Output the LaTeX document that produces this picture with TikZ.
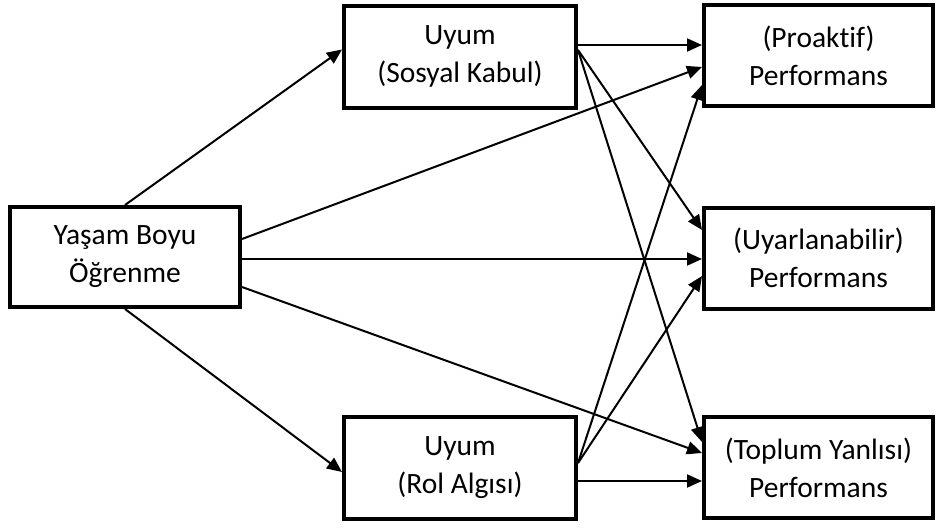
\documentclass[tikz,border=0pt]{standalone}
\usepackage{fontspec}
\setmainfont{Carlito}[Ligatures=NoCommon]
\usetikzlibrary{arrows.meta}
\begin{document}
\begin{tikzpicture}[x=1pt,y=-1pt,
  box/.style={draw=black, line width=4pt, fill=white, align=center,
    inner sep=0pt, font=\fontsize{29.5}{38}\selectfont},
  leftbox/.style={box, minimum width=230pt, minimum height=100pt},
  midbox/.style={box, minimum width=232pt, minimum height=102pt},
  rightbox/.style={box, minimum width=229pt, minimum height=101pt},
  link/.style={draw=black, line width=2pt, -{Triangle[length=15pt,width=13pt]}}]
\fill[white] (0,0) rectangle (936,530);
\useasboundingbox (0,0) rectangle (936,530);

% boxes
\node[leftbox]  (L)  at (125,257)   {Yaşam Boyu\\Öğrenme};
\node[midbox]   (TM) at (460,56.5)  {Uyum\\(Sosyal Kabul)};
\node[midbox]   (BM) at (460,467.5) {Uyum\\(Rol Algısı)};
\node[rightbox] (RT) at (818.5,55.5)  {(Proaktif)\\Performans};
\node[rightbox] (RM) at (818.5,258)   {(Uyarlanabilir)\\Performans};
\node[rightbox] (RB) at (818.5,467.5) {(Toplum Yanlısı)\\Performans};

% lifelong learning -> adjustment
\draw[link] (L.north) -- ([yshift=7pt]TM.west);
\draw[link] (L.south) -- ([yshift=-4.5pt]BM.west);

% lifelong learning -> performance
\draw[link] ([yshift=18pt]L.east)  -- ([yshift=-11.5pt]RT.west);
\draw[link] ([yshift=-2pt]L.east)  -- ([yshift=-1pt]RM.west);
\draw[link] ([yshift=-30pt]L.east) -- ([yshift=14.5pt]RB.west);

% social acceptance -> performance
\draw[link] ([yshift=11.5pt]TM.east) -- ([yshift=10.5pt]RT.west);
\draw[link] ([yshift=6.5pt]TM.east)  -- ([yshift=28pt]RM.west);
\draw[link] ([yshift=6.5pt]TM.east)  -- ([yshift=25.5pt]RB.west);

% role perception -> performance
\draw[link] ([yshift=4.5pt]BM.east)   -- ([yshift=-29.5pt]RT.west);
\draw[link] ([yshift=4.5pt]BM.east)   -- ([yshift=-18pt]RM.west);
\draw[link] ([yshift=-13.5pt]BM.east) -- ([yshift=-13.5pt]RB.west);
\end{tikzpicture}
\end{document}
